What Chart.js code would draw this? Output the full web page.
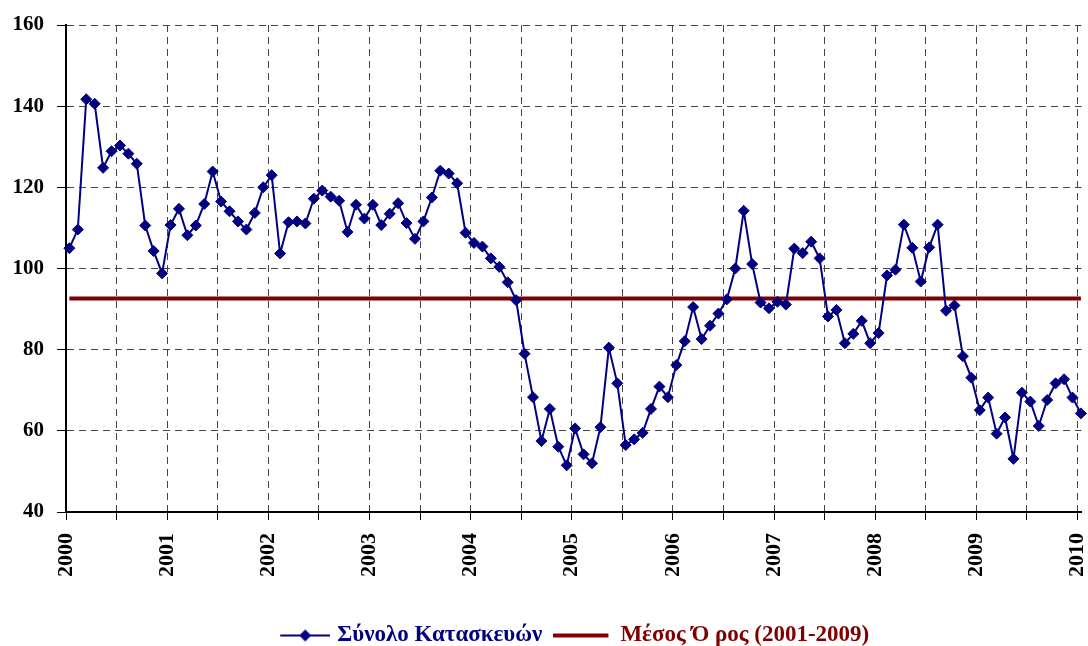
<!DOCTYPE html>
<html>
<head>
<meta charset="utf-8">
<script src="https://cdn.jsdelivr.net/npm/chart.js@4/dist/chart.umd.min.js"></script>
<style>
html,body{margin:0;padding:0;background:#fff;}
canvas{display:block;}
</style>
</head>
<body>
<canvas id="c" width="1088" height="646"></canvas>
<script>
// Monthly series, January 2000 to January 2010
const seriesLabel = 'Σύνολο Κατασκευών';
const meanLabel = 'Μέσος Ό ρος (2001-2009)';
const constructionIndex = [
  105.0, 109.6, 141.7, 140.6, 124.8, 128.9, 130.3, 128.3, 125.8, 110.6, 104.3, 98.8,
  110.7, 114.7, 108.2, 110.6, 115.9, 123.9, 116.5, 114.1, 111.6, 109.6, 113.7, 120.0,
  123.0, 103.7, 111.4, 111.6, 111.1, 117.2, 119.2, 117.7, 116.7, 109.0, 115.7, 112.3,
  115.7, 110.7, 113.5, 116.1, 111.2, 107.3, 111.6, 117.5, 124.1, 123.4, 121.0, 108.8,
  106.3, 105.4, 102.5, 100.4, 96.6, 92.2, 79.0, 68.3, 57.5, 65.4, 56.1, 51.5,
  60.6, 54.2, 52.0, 60.9, 80.5, 71.7, 56.5, 57.9, 59.5, 65.4, 70.9, 68.3,
  76.2, 82.1, 90.5, 82.6, 85.9, 88.9, 92.4, 100.0, 114.2, 101.1, 91.6, 90.2,
  91.8, 91.1, 104.9, 103.8, 106.6, 102.5, 88.2, 89.8, 81.6, 83.9, 87.1, 81.6,
  84.1, 98.3, 99.7, 110.8, 105.1, 96.8, 105.2, 110.8, 89.6, 90.9, 78.4, 73.1,
  65.1, 68.2, 59.3, 63.3, 53.1, 69.4, 67.2, 61.2, 67.6, 71.7, 72.7, 68.2,
  64.3
];
const meanValue = 92.6;
const yearLabels = ['2000','2001','2002','2003','2004','2005','2006','2007','2008','2009','2010'];
const yTicks = [40, 60, 80, 100, 120, 140, 160];

const MONTH_OFFSET = 0.4; // points sit slightly after the start of each month
const seriesPoints = constructionIndex.map((v, i) => ({x: i + MONTH_OFFSET, y: v}));
const meanPoints = [
  {x: MONTH_OFFSET, y: meanValue},
  {x: constructionIndex.length - 1 + MONTH_OFFSET, y: meanValue}
];
const xTickValues = [];
for (let m = 0; m <= (yearLabels.length - 1) * 12; m += 6) xTickValues.push(m);

const FONT = '"Liberation Serif", "Times New Roman", serif';
const NAVY = '#000080';
const DARKRED = '#800000';

function makeMarker(w, h, draw) {
  const c = document.createElement('canvas');
  c.width = w; c.height = h;
  draw(c.getContext('2d'));
  return c;
}
const blueMarker = makeMarker(54, 14, ctx => {
  ctx.strokeStyle = NAVY; ctx.lineWidth = 2;
  ctx.beginPath(); ctx.moveTo(4, 7); ctx.lineTo(54, 7); ctx.stroke();
  ctx.fillStyle = NAVY;
  ctx.beginPath(); ctx.moveTo(29, 1); ctx.lineTo(35, 7); ctx.lineTo(29, 13); ctx.lineTo(23, 7); ctx.closePath(); ctx.fill();
});
const redMarker = makeMarker(66, 14, ctx => {
  ctx.strokeStyle = DARKRED; ctx.lineWidth = 4;
  ctx.beginPath(); ctx.moveTo(0, 7); ctx.lineTo(55, 7); ctx.stroke();
});
const markers = [blueMarker, redMarker];

const legendShift = {
  id: 'legendShift',
  afterLayout(chart) {
    const l = chart.legend;
    if (!l) return;
    l.left += 34; l.right += 34;
    l.top += 11; l.bottom += 11;
  }
};

new Chart(document.getElementById('c'), {
  type: 'line',
  data: {
    datasets: [
      {
        label: seriesLabel,
        data: seriesPoints,
        borderColor: NAVY,
        backgroundColor: NAVY,
        borderWidth: 2,
        tension: 0,
        pointStyle: 'rectRot',
        pointRadius: 5.5,
        pointBorderWidth: 1,
        pointBackgroundColor: NAVY,
        pointBorderColor: NAVY,
        clip: false
      },
      {
        label: meanLabel,
        data: meanPoints,
        borderColor: DARKRED,
        backgroundColor: DARKRED,
        borderWidth: 4,
        pointRadius: 0,
        tension: 0,
        clip: false
      }
    ]
  },
  options: {
    responsive: false,
    animation: false,
    devicePixelRatio: 1,
    layout: {padding: {top: 25, right: 6, bottom: 0, left: 0}},
    plugins: {
      tooltip: {enabled: false},
      legend: {
        display: true,
        position: 'bottom',
        labels: {
          usePointStyle: true,
          pointStyleWidth: 45,
          padding: 21.5,
          font: {family: FONT, size: 23, weight: 'bold'},
          generateLabels: chart => chart.data.datasets.map((ds, i) => ({
            text: ds.label,
            fontColor: ds.borderColor,
            pointStyle: markers[i],
            fillStyle: 'transparent',
            strokeStyle: 'transparent',
            lineWidth: 0,
            hidden: false,
            datasetIndex: i
          }))
        }
      }
    },
    scales: {
      x: {
        type: 'linear',
        min: 0,
        max: (yearLabels.length - 1) * 12 + 0.47,
        afterBuildTicks: s => { s.ticks = xTickValues.map(v => ({value: v})); },
        afterFit: s => { s.height = 79.5; s.paddingLeft = 0; s.paddingRight = 0; },
        ticks: {
          autoSkip: false,
          minRotation: 90,
          maxRotation: 90,
          padding: 13,
          color: '#000',
          font: {family: FONT, size: 22, weight: 'bold'},
          callback: v => (v % 12 === 0 ? yearLabels[v / 12] : '')
        },
        grid: {
          color: '#444',
          lineWidth: 1,
          drawTicks: true,
          tickLength: 8,
          tickColor: '#000',
          tickWidth: 1
        },
        border: {display: true, color: '#000', width: 2, dash: [7, 5]}
      },
      y: {
        type: 'linear',
        min: 40,
        max: 160,
        afterBuildTicks: s => { s.ticks = yTicks.map(v => ({value: v})); },
        afterFit: s => { s.width = 66; s.paddingTop = 0; s.paddingBottom = 0; },
        ticks: {
          padding: 13,
          color: '#000',
          font: {family: FONT, size: 21, weight: 'bold'}
        },
        grid: {
          color: '#444',
          lineWidth: 1,
          drawTicks: true,
          tickLength: 9,
          tickColor: '#000',
          tickWidth: 1
        },
        border: {display: true, color: '#000', width: 2, dash: [7, 5]}
      }
    }
  },
  plugins: [legendShift]
});
</script>
</body>
</html>
